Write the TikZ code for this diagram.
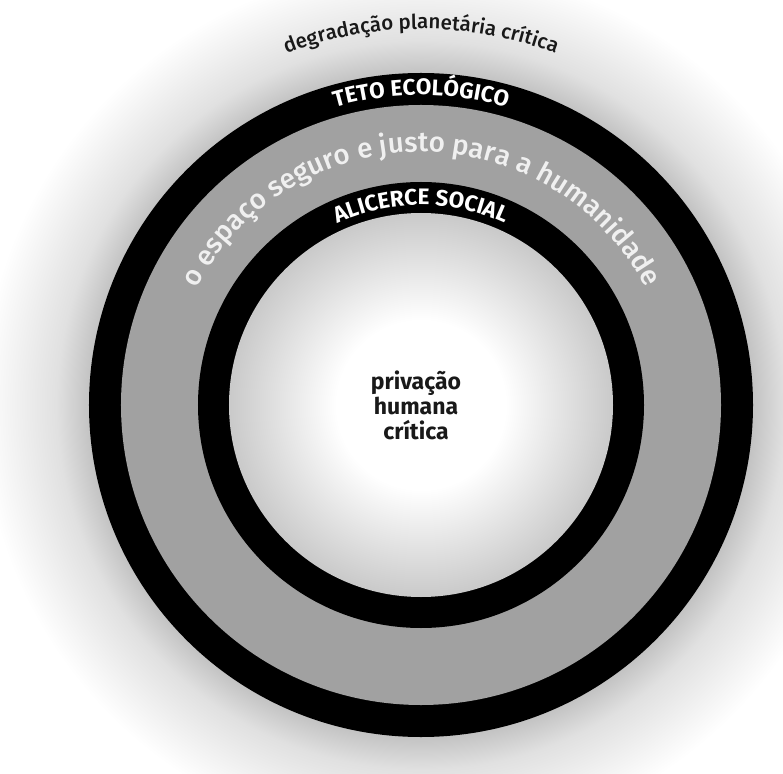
\documentclass[tikz,border=0pt]{standalone}
\usepackage{fontspec}
\setmainfont{Fira Sans}
\newfontfamily\firamedium{Fira Sans Medium}
\usepackage{xcolor}
\usetikzlibrary{decorations.text}
\definecolor{RingGray}{gray}{0.63}
\definecolor{LightText}{gray}{0.94}
\definecolor{DarkText}{gray}{0.1}
% soft shadow round the outer ring, and the pale hole in the middle
\pgfdeclareradialshading{outerglow}{\pgfpointorigin}{rgb(0bp)=(0.76,0.76,0.76); rgb(18.8bp)=(0.76,0.76,0.76); rgb(20.7bp)=(0.88,0.88,0.88); rgb(25bp)=(1,1,1); rgb(50bp)=(1,1,1)}
\pgfdeclareradialshading{innerhole}{\pgfpointorigin}{rgb(0bp)=(1,1,1); rgb(11bp)=(1,1,1); rgb(25bp)=(0.79,0.79,0.79); rgb(50bp)=(0.79,0.79,0.79)}
\newcommand\ringfont{\fontsize{22.5}{25}\selectfont\bfseries}
\newcommand\bandfont{\fontsize{27.8}{30}\selectfont\firamedium}
\newcommand\edgefont{\fontsize{20.5}{24}\selectfont\firamedium}
\tikzset{
  ringtext/.style={decorate, decoration={text along path, text align=center, text color=white, text={|\ringfont|#1}}},
  bandtext/.style={decorate, decoration={text along path, text align=center, text color=LightText, text={|\bandfont|#1}}},
  edgetext/.style={decorate, decoration={text along path, text align=center, text color=DarkText, text={|\edgefont|#1}}}
}
\begin{document}
\begin{tikzpicture}
    \useasboundingbox (-421pt,-368pt) rectangle (362pt,405pt);
    \fill[white] (-421pt,-368pt) rectangle (362pt,405pt);

    \shade[shading=outerglow] (0,0) circle (440pt);

    \fill[black] (0,0) circle (332pt);
    \fill[RingGray] (0,0) circle (300pt);
    \fill[black] (0,0) circle (223pt);
    \shade[shading=innerhole] (0,0) circle (192pt);

    % labels bent round the rings
    \path[edgetext={degradação planetária crítica}] (150:376pt) arc (150:30:376pt);
    \path[ringtext={TETO ECOLÓGICO}] (150:310pt) arc (150:30:310pt);
    \path[bandtext={o espaço seguro e justo para a humanidade}] (170:253pt) arc (170:10:253pt);
    \path[ringtext={ALICERCE SOCIAL}] (150:200pt) arc (150:30:200pt);

    \node[align=center, text=DarkText, font=\fontsize{23}{25}\selectfont\bfseries] (privacao) at (-5pt,0) {privação\\humana\\crítica};
\end{tikzpicture}
\end{document}
